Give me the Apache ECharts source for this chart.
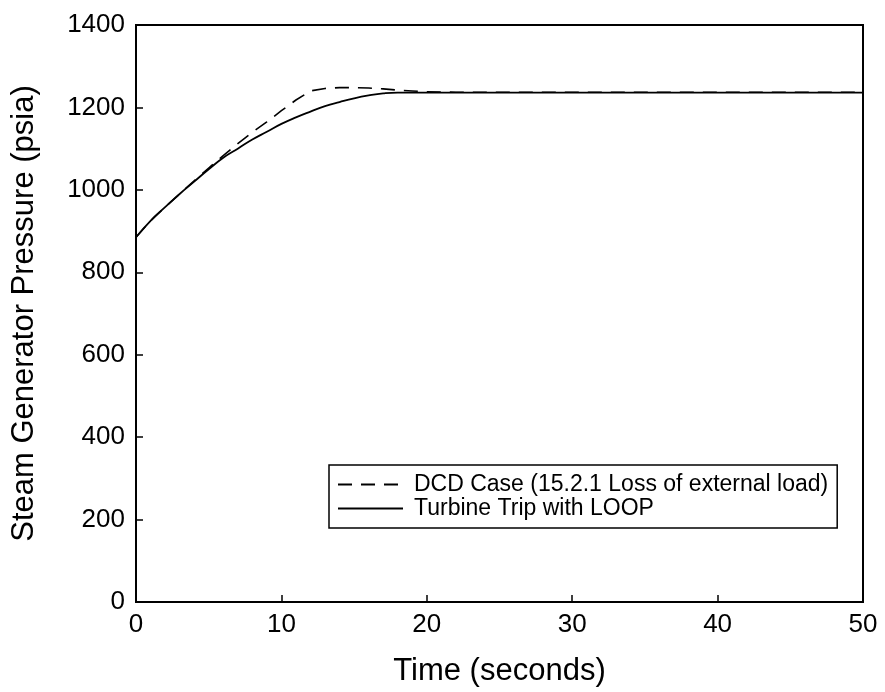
<!DOCTYPE html>
<html>
<head>
<meta charset="utf-8">
<script src="https://cdn.jsdelivr.net/npm/echarts@6/dist/echarts.min.js"></script>
<style>html,body{margin:0;padding:0;background:#fff}#c{width:885px;height:692px}</style>
</head>
<body>
<div id="c"></div>
<script>
const seriesNames = ['DCD Case (15.2.1 Loss of external load)', 'Turbine Trip with LOOP'];
const dcdTime = [0,1,2,3,4,5,6,7,8,9,10,11,12,13,14,15,16,17,18,19,20,22,30,40,50];
const dcdPressure = [885,925,958,990,1022,1053,1083,1112,1140,1165,1192,1218,1240,1246,1248,1248,1247,1245,1242,1240,1238,1237,1237,1237,1237];
const tripTime = [0,1,2,3,4,5,6,7,8,9,10,11,12,13,14,15,16,17,18,20,30,40,50];
const tripPressure = [885,925,958,990,1020,1050,1078,1100,1122,1141,1160,1176,1190,1203,1213,1222,1229,1234,1236,1236,1236,1236,1236];
const xTitle = 'Time (seconds)';
const yTitle = 'Steam Generator Pressure (psia)';

const zip = (a, b) => a.map((v, i) => [v, b[i]]);
const font = 'Liberation Sans, Arial, sans-serif';
const chart = echarts.init(document.getElementById('c'), null, {renderer: 'canvas'});
chart.setOption({
  backgroundColor: '#fff',
  animation: false,
  grid: {left: 136, right: 22, top: 25, bottom: 89, show: true, borderColor: '#000', borderWidth: 2, backgroundColor: 'transparent'},
  legend: {
    orient: 'vertical', left: 329, top: 465,
    backgroundColor: '#fff', borderColor: '#000', borderWidth: 1.5,
    padding: [8, 9, 8, 8], itemGap: 1, itemWidth: 65, itemHeight: 22,
    itemStyle: {opacity: 0},
    lineStyle: {inactiveColor: '#000'},
    textStyle: {fontFamily: font, fontSize: 23, color: '#000', lineHeight: 23, padding: [0, 0, 0, 6]},
    data: seriesNames
  },
  xAxis: {
    type: 'value', min: 0, max: 50, interval: 10,
    name: xTitle, nameLocation: 'middle', nameGap: 54,
    nameTextStyle: {fontFamily: font, fontSize: 31, color: '#000'},
    axisLine: {show: true, lineStyle: {color: '#000', width: 2}},
    axisTick: {show: true, inside: true, length: 7, lineStyle: {color: '#000', width: 1.5}},
    axisLabel: {fontFamily: font, fontSize: 26, color: '#000', margin: 10, formatter: v => String(v)},
    splitLine: {show: false}
  },
  yAxis: {
    type: 'value', min: 0, max: 1400, interval: 200,
    name: yTitle, nameLocation: 'middle', nameGap: 96,
    nameTextStyle: {fontFamily: font, fontSize: 31, color: '#000'},
    axisLine: {show: true, lineStyle: {color: '#000', width: 2}},
    axisTick: {show: true, inside: true, length: 7, lineStyle: {color: '#000', width: 1.5}},
    axisLabel: {fontFamily: font, fontSize: 26, color: '#000', margin: 11, formatter: v => String(v)},
    splitLine: {show: false}
  },
  series: [
    {name: seriesNames[0], type: 'line', data: zip(dcdTime, dcdPressure), symbol: 'none', smooth: false,
     lineStyle: {color: '#000', width: 1.6, type: [14, 9]}, itemStyle: {color: '#000'}, z: 3},
    {name: seriesNames[1], type: 'line', data: zip(tripTime, tripPressure), symbol: 'none', smooth: true,
     lineStyle: {color: '#000', width: 1.8, type: 'solid'}, itemStyle: {color: '#000'}, z: 2}
  ]
});
</script>
</body>
</html>
